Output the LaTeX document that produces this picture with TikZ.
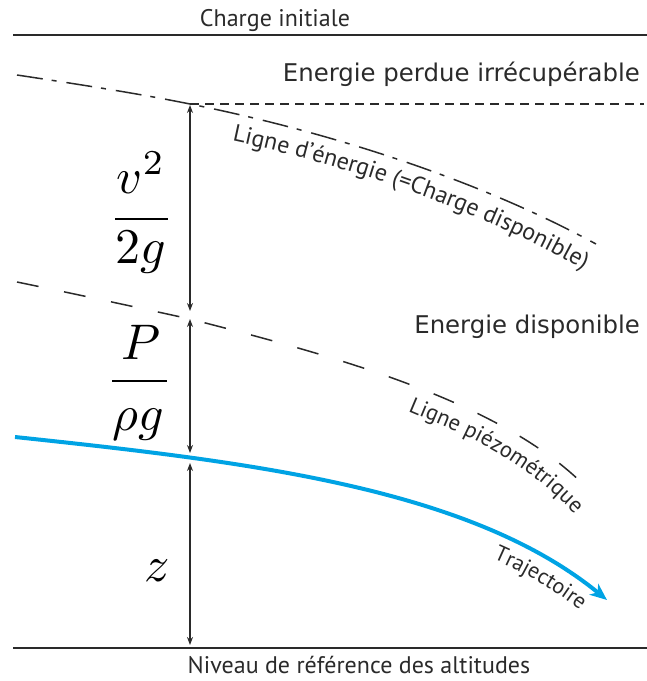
\documentclass[tikz,border=0pt]{standalone}
\usepackage{fontspec}
\newfontfamily\ptsans{PT Sans}
\newfontfamily\dejavu{DejaVu Sans}
\usetikzlibrary{arrows.meta,decorations.text}
\definecolor{ink}{HTML}{2A2A2A}
\definecolor{flow}{HTML}{00A3E4}
\tikzset{
  lbl/.style={text=ink, font=\ptsans\fontsize{24}{28}\selectfont, inner sep=0pt},
  dv/.style={text=ink, font=\dejavu\fontsize{24.4}{29}\selectfont, inner sep=0pt},
  mth/.style={text=black, font=\fontsize{10}{12}\selectfont, inner sep=0pt, scale=5},
  dimarrow/.style={ink, line width=1.3pt, {Stealth[length=8pt,width=6pt]}-{Stealth[length=8pt,width=6pt]}},
  levelline/.style={ink, line width=1.5pt},
  fracbar/.style={black, line width=2.4pt},
  energyline/.style={ink, line width=1.5pt, dash pattern=on 26pt off 9pt on 5pt off 10pt},
  piezoline/.style={ink, line width=1.5pt, dash pattern=on 22pt off 26pt},
  shortdash/.style={ink, line width=1.5pt, dash pattern=on 9pt off 6pt},
  flowline/.style={flow, line width=4pt, -{Stealth[length=17pt,width=14pt,inset=5pt]}},
}
\begin{document}
\begin{tikzpicture}[x=1pt,y=-1pt]
\useasboundingbox (0,0) rectangle (647,681);
% level lines
\coordinate (tl) at (13,35); \coordinate (tr) at (647,35);
\coordinate (bl) at (13,648); \coordinate (br) at (647,648);
\draw[levelline] (tl) -- (tr);
\draw[levelline] (bl) -- (br);
\node[lbl, anchor=base] (charge) at (275,26) {Charge initiale};
\node[lbl, anchor=base] (niveau) at (359,673) {Niveau de référence des altitudes};
\node[dv, anchor=base east] (perdue) at (640,81) {Energie perdue irrécupérable};
\node[dv, anchor=base east] (dispo) at (640,333) {Energie disponible};
% energy line
\coordinate (e1) at (17,75); \coordinate (E0) at (190,104); \coordinate (e2) at (596,244);
\coordinate (h2) at (644,104);
\draw[shortdash] (E0) -- (h2);
\draw[energyline] (e1) .. controls (110,89) and (150,96) .. (E0) .. controls (300,126) and (460,170) .. (e2);
\path[decoration={text along path, text align=left, text color=ink,
  text={|\ptsans\fontsize{24}{28}\selectfont|Ligne d’énergie (=Charge disponible)}}, decorate]
  (232,141) .. controls (350,166) and (490,212) .. (610,285);
% piezometric line
\coordinate (p1) at (17,282); \coordinate (P0) at (190,319); \coordinate (p2) at (586,487);
\draw[piezoline] (p1) .. controls (80,295) and (140,308) .. (P0) .. controls (330,355) and (500,400) .. (p2);
\path[decoration={text along path, text align=left, text color=ink,
  text={|\ptsans\fontsize{22.5}{26}\selectfont|Ligne piézométrique}}, decorate]
  (408,411) .. controls (462,434) and (530,458) .. (592,534);
% trajectory
\coordinate (t1) at (15,437); \coordinate (T0) at (190,458); \coordinate (t2) at (607,600);
\draw[flowline] (t1) .. controls (250,462) and (470,488) .. (t2);
\path[decoration={text along path, text align=left, text color=ink,
  text={|\ptsans\fontsize{22}{26}\selectfont|Trajectoire}}, decorate]
  (493,559) .. controls (525,573) and (560,592) .. (602,628);
% dimension arrows
\coordinate (a1t) at (190,105); \coordinate (a1b) at (190,311);
\coordinate (a2t) at (190,319); \coordinate (a2b) at (190,453);
\coordinate (a3t) at (190,463); \coordinate (a3b) at (190,645);
\draw[dimarrow] (a1t) -- (a1b);
\draw[dimarrow] (a2t) -- (a2b);
\draw[dimarrow] (a3t) -- (a3b);
% fractions
\node[mth, anchor=base] (vnum) at (141,193) {$v^2$};
\coordinate (b1l) at (115,219); \coordinate (b1r) at (168,219);
\draw[fracbar] (b1l) -- (b1r);
\node[mth, anchor=base] (vden) at (141,263) {$2g$};
\node[mth, anchor=base] (pnum) at (141,359) {$P$};
\coordinate (b2l) at (112,381); \coordinate (b2r) at (167,381);
\draw[fracbar] (b2l) -- (b2r);
\node[mth, anchor=base] (pden) at (138,430) {$\rho g$};
\node[mth, anchor=base] (zlab) at (157,581) {$z$};
\end{tikzpicture}
\end{document}
